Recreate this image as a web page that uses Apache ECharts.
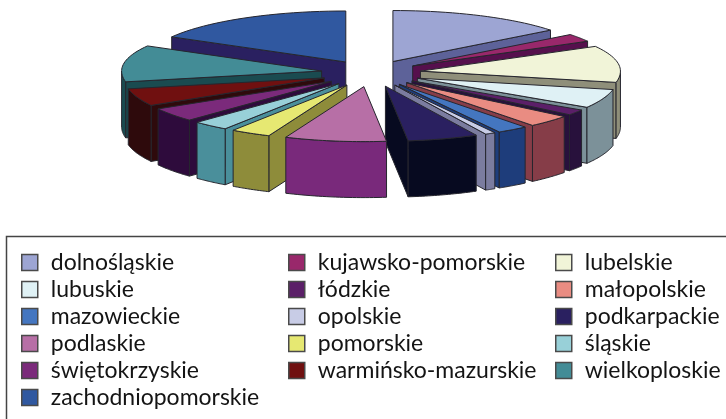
<!DOCTYPE html>
<html>
<head>
<meta charset="utf-8">
<style>
  html, body { margin: 0; padding: 0; background: #fff; }
  #chart { width: 726px; height: 419px; }
</style>
<script src="https://cdn.jsdelivr.net/npm/echarts@6/dist/echarts.min.js"></script>
</head>
<body>
<div id="chart"></div>
<script>
// udział województw (%)
var categories = ['dolnośląskie', 'kujawsko-pomorskie', 'lubelskie', 'lubuskie', 'łódzkie', 'małopolskie', 'mazowieckie', 'opolskie', 'podkarpackie', 'podlaskie', 'pomorskie', 'śląskie', 'świętokrzyskie', 'warmińsko-mazurskie', 'wielkoploskie', 'zachodniopomorskie'];
var values = [14.44, 2.5, 11.39, 5.56, 1.67, 3.61, 2.5, 0.83, 5.69, 8.19, 3.25, 2.92, 4.11, 5.14, 11.39, 16.81];
var topColors = ['#9DA5D3', '#99286B', '#F1F4D8', '#DFF1F5', '#5B1F68', '#E98C82', '#4476C0', '#C8CCE6', '#2A2060', '#B76FA6', '#E6E872', '#98D0D8', '#7B2A7B', '#701010', '#438C96', '#3058A0'];
var wallColors = ['#5D6299', '#56104D', '#8F8F7A', '#7C9199', '#28113C', '#863D48', '#1E3D7B', '#7B7C9F', '#070A20', '#79297B', '#8E8C3A', '#4A8F9B', '#2E0B3C', '#2E0A0C', '#1A4B50', '#2A2060'];
var legendColumns = [
  ['dolnośląskie', 'lubuskie', 'mazowieckie', 'podlaskie', 'świętokrzyskie', 'zachodniopomorskie'],
  ['kujawsko-pomorskie', 'łódzkie', 'opolskie', 'pomorskie', 'warmińsko-mazurskie'],
  ['lubelskie', 'małopolskie', 'podkarpackie', 'śląskie', 'wielkoploskie']
];

var cx = 371, cy = 73, rx = 200, ryBack = 51, ryFront = 55;
var explode = 0.25, depth = 56;
var lineColor = '#26262e';

var total = values.reduce(function (a, b) { return a + b; }, 0);
var slices = [];
var acc = 0;
values.forEach(function (v, i) {
  var start = acc / total * Math.PI * 2;
  acc += v;
  var end = acc / total * Math.PI * 2;
  slices.push({ index: i, start: start, end: end, mid: (start + end) / 2 });
});

// przód wykresu jest trochę bardziej rozciągnięty niż tył
function toY (v, dy) {
  return cy - v * (v > 0 ? ryBack : ryFront) + dy;
}
// kąt liczony od góry, zgodnie z ruchem wskazówek zegara
function rimPoint (s, a, dy) {
  return [
    cx + (explode * Math.sin(s.mid) + Math.sin(a)) * rx,
    toY(explode * Math.cos(s.mid) + Math.cos(a), dy)
  ];
}
function apexPoint (s, dy) {
  return [cx + explode * Math.sin(s.mid) * rx, toY(explode * Math.cos(s.mid), dy)];
}
function arc (s, a0, a1, dy) {
  var pts = [];
  for (var k = 0; k <= 24; k++) {
    pts.push(rimPoint(s, a0 + (a1 - a0) * k / 24, dy));
  }
  return pts;
}
function poly (points, fill) {
  return { type: 'polygon', shape: { points: points }, style: { fill: fill, stroke: lineColor, lineWidth: 1 } };
}

function sliceItem (s) {
  var wall = wallColors[s.index];
  var children = [];
  // boczne ściany tylko gdy widać je od przodu
  if (Math.sin(s.start) < 0) {
    children.push(poly([apexPoint(s, 0), rimPoint(s, s.start, 0), rimPoint(s, s.start, depth), apexPoint(s, depth)], wall));
  }
  if (Math.sin(s.end) > 0) {
    children.push(poly([apexPoint(s, 0), rimPoint(s, s.end, 0), rimPoint(s, s.end, depth), apexPoint(s, depth)], wall));
  }
  var a0 = Math.max(s.start, Math.PI / 2);
  var a1 = Math.min(s.end, Math.PI * 1.5);
  if (a1 > a0) {
    children.push(poly(arc(s, a0, a1, 0).concat(arc(s, a1, a0, depth)), wall));
  }
  children.push(poly([apexPoint(s, 0)].concat(arc(s, s.start, s.end, 0)), topColors[s.index]));
  return { type: 'group', children: children };
}

// rysujemy od tyłu do przodu
var order = slices.slice().sort(function (a, b) { return Math.cos(b.mid) - Math.cos(a.mid); });
var series = order.map(function (s, rank) {
  return {
    type: 'custom',
    name: categories[s.index],
    coordinateSystem: 'none',
    silent: true,
    z: 2 + rank,
    itemStyle: { color: topColors[s.index] },
    data: [values[s.index]],
    renderItem: function () { return sliceItem(s); }
  };
});

var legendLeft = [21, 288, 555];
var legends = legendColumns.map(function (names, i) {
  return {
    data: names,
    orient: 'vertical',
    left: legendLeft[i],
    top: 251,
    height: 167,
    padding: 0,
    itemWidth: 16,
    itemHeight: 16,
    itemGap: 4,
    icon: 'rect',
    selectedMode: false,
    itemStyle: { borderColor: '#4a4a4a', borderWidth: 1.5 },
    textStyle: { fontFamily: 'Lato', fontSize: 23, color: '#141414', padding: [0, 0, 0, 8] }
  };
});

var chart = echarts.init(document.getElementById('chart'), null, { renderer: 'canvas' });
chart.setOption({
  animation: false,
  backgroundColor: '#fff',
  legend: legends,
  graphic: [{
    type: 'rect',
    silent: true,
    shape: { x: 6.5, y: 236.5, width: 800, height: 300 },
    style: { fill: 'none', stroke: '#444', lineWidth: 1.5 }
  }],
  series: series
});
</script>
</body>
</html>
